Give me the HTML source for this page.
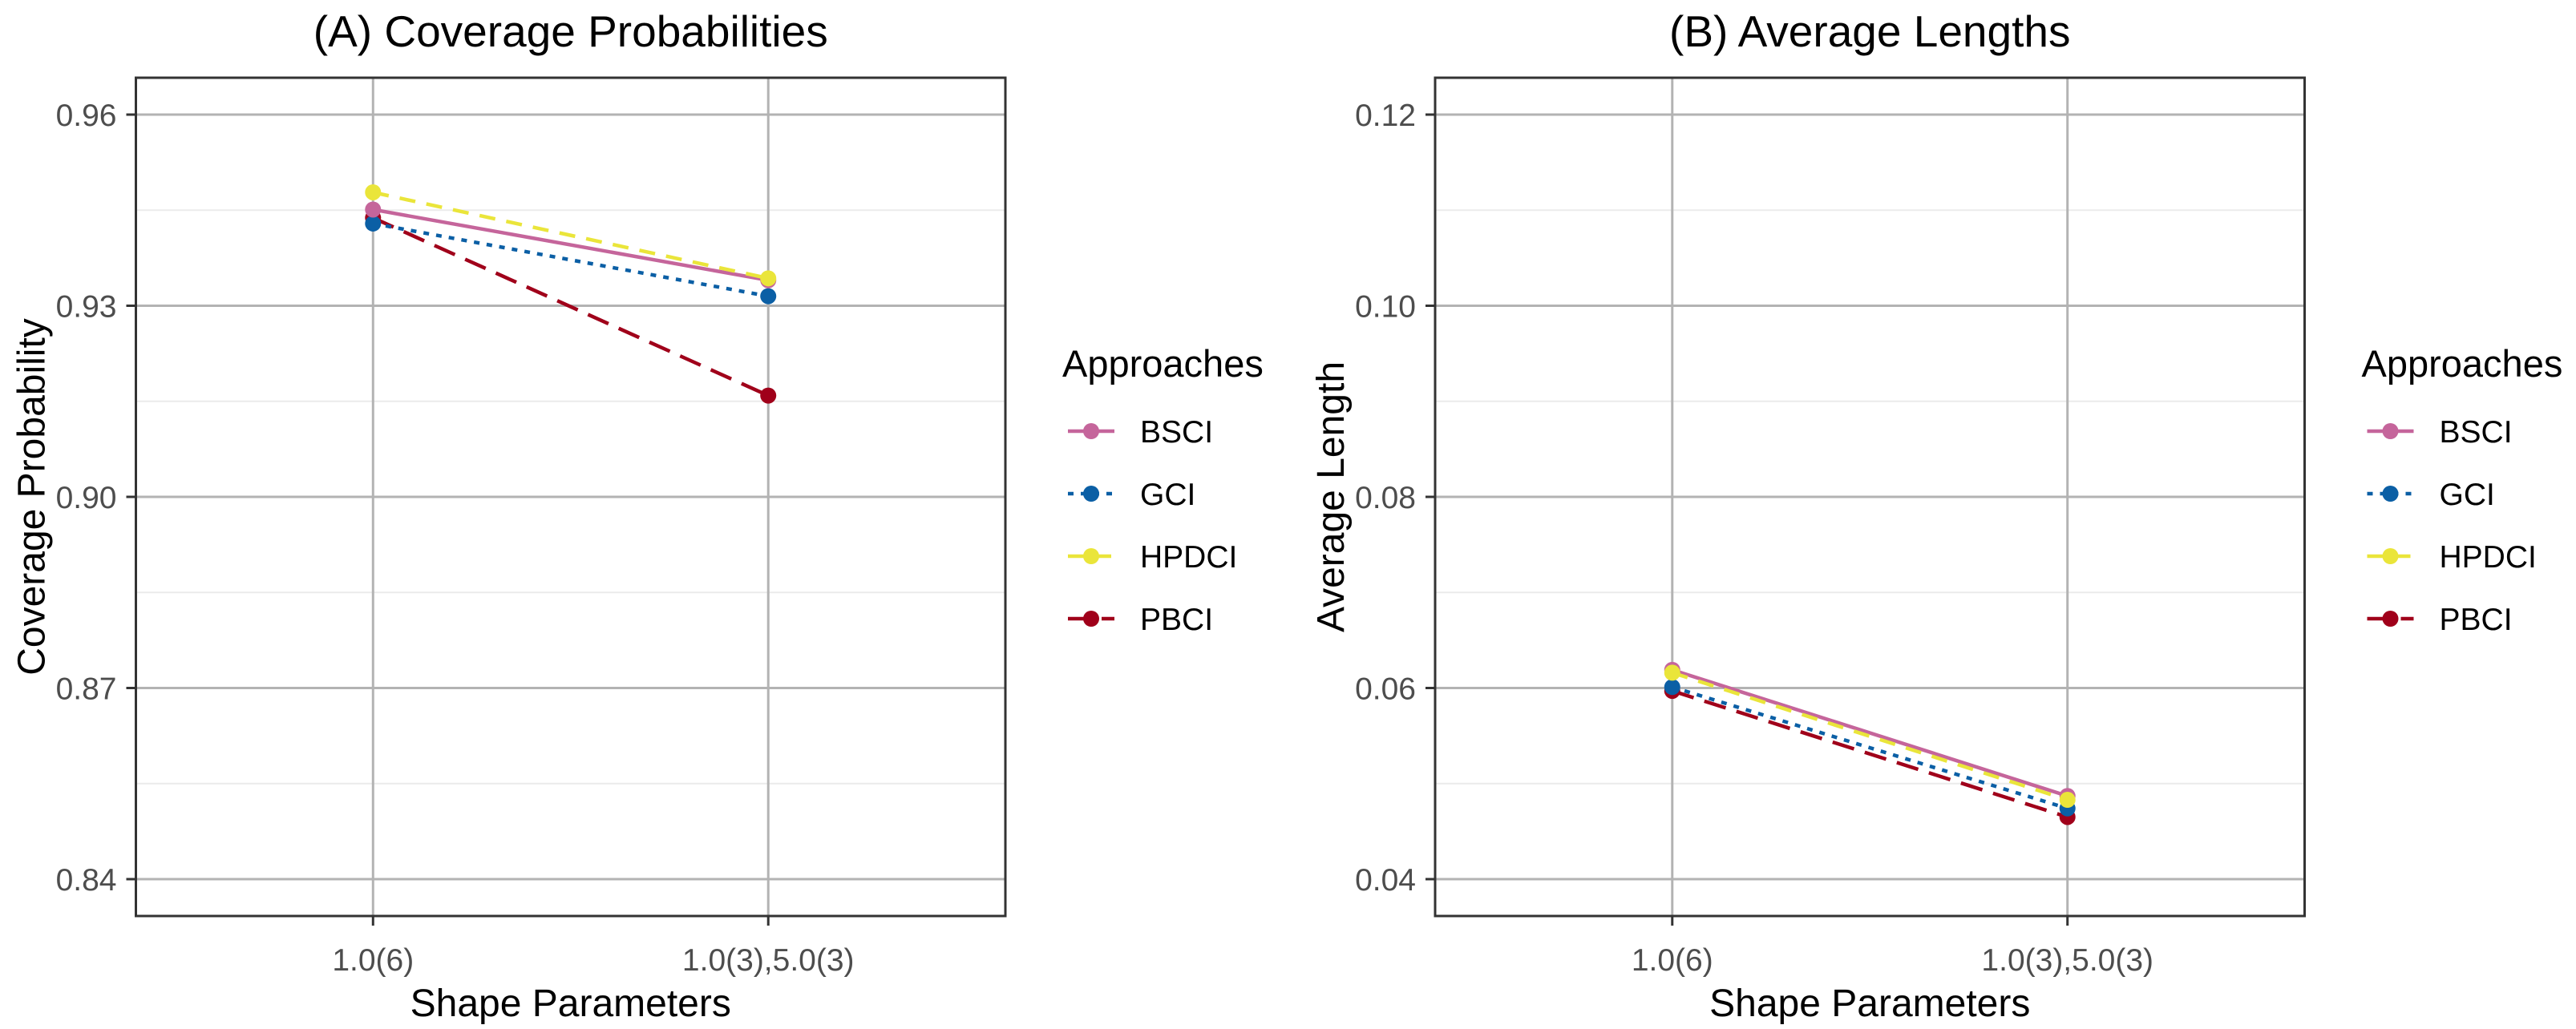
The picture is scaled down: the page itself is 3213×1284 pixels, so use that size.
<!DOCTYPE html>
<html><head><meta charset="utf-8"><style>
html,body{margin:0;padding:0;background:#fff;}
svg{display:block;font-family:"Liberation Sans",Arial,sans-serif;}
</style></head><body>
<svg id="chart" width="3213" height="1284" viewBox="0 0 3213 1284" xmlns="http://www.w3.org/2000/svg"></svg>
<script>
const categories = ["1.0(6)", "1.0(3),5.0(3)"];
const seriesNames = ["BSCI", "GCI", "HPDCI", "PBCI"];
const coverageBSCI = [0.9451, 0.9340];
const coverageGCI = [0.9429, 0.9315];
const coverageHPDCI = [0.9478, 0.9343];
const coveragePBCI = [0.9438, 0.9159];
const lengthBSCI = [0.0619, 0.0487];
const lengthGCI = [0.0601, 0.0474];
const lengthHPDCI = [0.0616, 0.0483];
const lengthPBCI = [0.0597, 0.0465];
const coverageTicks = [0.84, 0.87, 0.90, 0.93, 0.96];
const coverageTickLabels = ["0.84", "0.87", "0.90", "0.93", "0.96"];
const lengthTicks = [0.04, 0.06, 0.08, 0.10, 0.12];
const lengthTickLabels = ["0.04", "0.06", "0.08", "0.10", "0.12"];

const NS = "http://www.w3.org/2000/svg";
const svg = document.getElementById("chart");
const colors = {BSCI:"#c5659b", GCI:"#0b5fa5", HPDCI:"#eae53a", PBCI:"#a0001a"};
const dashes = {BSCI:"", GCI:"7 9", HPDCI:"20 14", PBCI:"28 14"};
function el(tag, attrs, parent){ const e=document.createElementNS(NS,tag); for(const k in attrs) e.setAttribute(k,attrs[k]); (parent||svg).appendChild(e); return e; }

function panel(opt){
  const g = el("g",{});
  
  
  const L=opt.left, R=L+1084.5, T=97, B=1143;
  const yTop=143, yBot=1097;
  const tmin=opt.ticks[0], tmax=opt.ticks[opt.ticks.length-1];
  const ys = v => yBot - (v - tmin)/(tmax - tmin)*(yBot - yTop);
  const unit = (R-L)/2.2;
  const xs = i => L + (0.6 + i)*unit;
  // minor grid
  for(let i=0;i<opt.ticks.length-1;i++){
    const m=(opt.ticks[i]+opt.ticks[i+1])/2;
    const ln=el("line",{x1:L,x2:R,y1:ys(m),y2:ys(m),stroke:"#ebebeb","stroke-width":2},g);
    
    
  }
  opt.ticks.forEach((t,i)=>{
    const y=ys(t);
    const ln=el("line",{x1:L,x2:R,y1:y,y2:y,stroke:"#b3b3b3","stroke-width":3},g);
    
    
    const tk=el("line",{x1:L-12,x2:L,y1:y,y2:y,stroke:"#333","stroke-width":3},g);
    
    
    const tx=el("text",{x:L-24,y:y+14,"text-anchor":"end","font-size":39,fill:"#4d4d4d"},g);
    tx.textContent=opt.tickLabels[i];
    
    
  });
  categories.forEach((c,i)=>{
    const x=xs(i);
    const ln=el("line",{x1:x,x2:x,y1:T,y2:B,stroke:"#b3b3b3","stroke-width":3},g);
    
    
    const tk=el("line",{x1:x,x2:x,y1:B,y2:B+12,stroke:"#333","stroke-width":3},g);
    
    
    const tx=el("text",{x:x,y:1211,"text-anchor":"middle","font-size":39,fill:"#4d4d4d"},g);
    tx.textContent=c;
    
    
  });
  const order=["PBCI","GCI","BSCI","HPDCI"];
  order.forEach(s=>{
    const vals=opt.data[s];
    const pts=vals.map((v,i)=>xs(i)+","+ys(v)).join(" ");
    const pl=el("polyline",{points:pts,fill:"none",stroke:colors[s],"stroke-width":4.5,"stroke-dasharray":dashes[s]},g);
    
    
  });
  order.forEach(s=>{
    opt.data[s].forEach((v,i)=>{
      const c=el("circle",{cx:xs(i),cy:ys(v),r:10,fill:colors[s]},g);
      
      
    });
  });
  const fr=el("rect",{x:L,y:T,width:R-L,height:B-T,fill:"none",stroke:"#333","stroke-width":3},g);
  
  
  const cx=(L+R)/2;
  const ti=el("text",{x:cx,y:58,"text-anchor":"middle","font-size":55,fill:"#000"},g);
  ti.textContent=opt.title;
  
  
  const xt=el("text",{x:cx,y:1268,"text-anchor":"middle","font-size":48,fill:"#000"},g);
  xt.textContent="Shape Parameters";
  
  
  const yt=el("text",{x:0,y:0,"text-anchor":"middle","font-size":48,fill:"#000",transform:`translate(${L-114},${(T+B)/2}) rotate(-90)`},g);
  yt.textContent=opt.ytitle;
  
  
  // legend
  const lx=R+71;
  const lt=el("text",{x:lx,y:470,"font-size":47,fill:"#000"},g);
  lt.textContent="Approaches";
  
  
  seriesNames.forEach((s,i)=>{
    const y=538+i*78;
    const lg=el("g",{},g);
    
    
    el("line",{x1:lx+7,x2:lx+65,y1:y,y2:y,stroke:colors[s],"stroke-width":4.5,"stroke-dasharray":dashes[s]},lg);
    el("circle",{cx:lx+36,cy:y,r:10,fill:colors[s]},lg);
    const t=el("text",{x:lx+97,y:y+14,"font-size":39,fill:"#000"},lg);
    t.textContent=s;
  });
}
panel({name:"panel-coverage", left:169.5, ticks:coverageTicks, tickLabels:coverageTickLabels,
  title:"(A) Coverage Probabilities", ytitle:"Coverage Probability",
  data:{BSCI:coverageBSCI,GCI:coverageGCI,HPDCI:coverageHPDCI,PBCI:coveragePBCI}});
panel({name:"panel-length", left:1790, ticks:lengthTicks, tickLabels:lengthTickLabels,
  title:"(B) Average Lengths", ytitle:"Average Length",
  data:{BSCI:lengthBSCI,GCI:lengthGCI,HPDCI:lengthHPDCI,PBCI:lengthPBCI}});
</script>
</body></html>
